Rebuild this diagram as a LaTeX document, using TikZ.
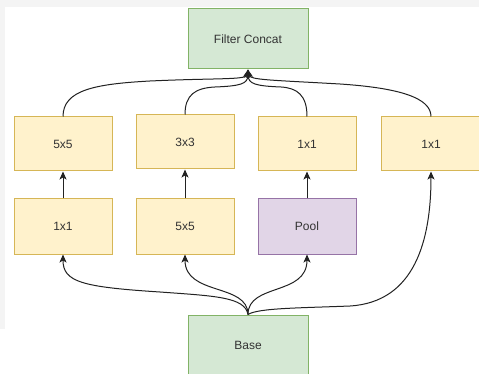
\documentclass[tikz,border=0pt]{standalone}
\usepackage{fontspec}
\setmainfont{Liberation Sans}
\usetikzlibrary{arrows.meta}

\definecolor{ylfill}{HTML}{FFF2CC}
\definecolor{yldraw}{HTML}{D6B656}
\definecolor{grfill}{HTML}{D5E8D4}
\definecolor{grdraw}{HTML}{82B366}
\definecolor{pufill}{HTML}{E1D5E7}
\definecolor{pudraw}{HTML}{9673A6}
\definecolor{canvas}{HTML}{F4F4F4}
\definecolor{ink}{HTML}{333333}
\definecolor{wire}{HTML}{222222}

\begin{document}
\begin{tikzpicture}[x=1pt,y=-1pt,
  box/.style={draw, line width=1pt, minimum width=98pt, minimum height=54pt,
    inner sep=0pt, font=\fontsize{12}{14}\selectfont, text=ink},
  conv/.style={box, fill=ylfill, draw=yldraw},
  pool/.style={box, fill=pufill, draw=pudraw},
  stage/.style={box, fill=grfill, draw=grdraw, minimum width=120pt, minimum height=60pt},
  flow/.style={draw=wire, line width=1pt, -{Stealth[length=8pt,width=7pt,inset=2pt]}}]

% page and canvas
\useasboundingbox (0,0) rectangle (479,374);
\fill[white] (0,0) rectangle (479,374);
\fill[canvas] (0,0) rectangle (479,7);
\fill[canvas] (0,0) rectangle (5,329);

% input and output stages
\node[stage] (concat) at (248,39) {Filter Concat};
\node[stage] (base) at (248,345) {Base};

% upper row of convolutions
\node[conv] (t1) at (63,144) {5x5};
\node[conv] (t2) at (185,142) {3x3};
\node[conv] (t3) at (307,144) {1x1};
\node[conv, minimum width=100pt] (t4) at (431,144) {1x1};

% lower row
\node[conv, minimum height=55pt] (b1) at (63,226.5) {1x1};
\node[conv, minimum height=55pt] (b2) at (185,226.5) {5x5};
\node[pool, minimum height=55pt] (b3) at (307,226.5) {Pool};

% straight links between rows
\draw[flow] (b1.north) -- (t1.south);
\draw[flow] (b2.north) -- (t2.south);
\draw[flow] (b3.north) -- (t3.south);

% fan-out from the base
\draw[flow] (base.north) .. controls (245,297) and (215,296) .. (160,292)
  .. controls (82,287) and (63,282) .. (b1.south);
\draw[flow] (base.north) .. controls (248,283) and (185,296) .. (b2.south);
\draw[flow] (base.north) .. controls (248,283) and (307,296) .. (b3.south);
\draw[flow] (base.north) .. controls (258,308) and (300,308) .. (350,306)
  .. controls (415,302) and (431,240) .. (t4.south);

% fan-in to the concatenation
\draw[flow] (t1.north) .. controls (63,90) and (95,84) .. (150,81)
  .. controls (215,78) and (246,80) .. (concat.south);
\draw[flow] (t2.north) .. controls (185,95) and (195,88) .. (215,87)
  .. controls (240,86) and (248,84) .. (concat.south);
\draw[flow] (t3.north) .. controls (307,95) and (297,88) .. (281,87)
  .. controls (256,86) and (248,84) .. (concat.south);
\draw[flow] (t4.north) .. controls (431,98) and (400,88) .. (340,84)
  .. controls (270,80) and (250,80) .. (concat.south);
\end{tikzpicture}
\end{document}
